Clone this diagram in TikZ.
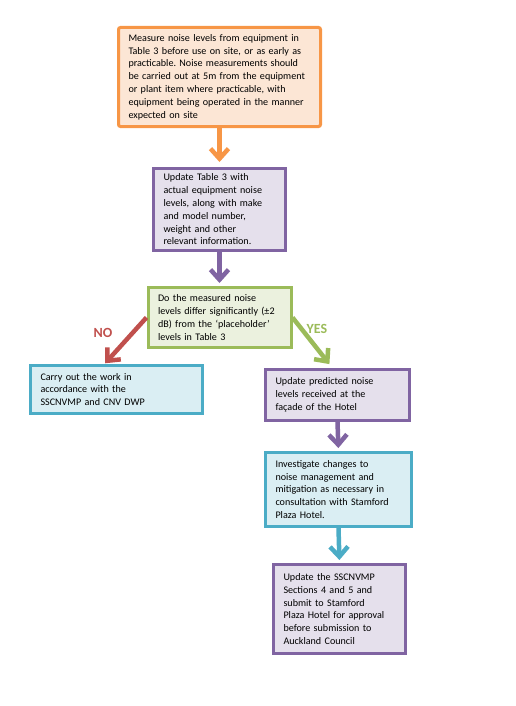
\documentclass[tikz,border=0pt]{standalone}
\usepackage{fontspec}
\setmainfont{Carlito}
\usetikzlibrary{arrows.meta,positioning}
\hyphenpenalty=10000
\frenchspacing

\definecolor{orangeline}{HTML}{F79646}
\definecolor{orangefill}{HTML}{FCE6D5}
\definecolor{purpleline}{HTML}{8064A2}
\definecolor{purplefill}{HTML}{E5E0EC}
\definecolor{greenline}{HTML}{9BBB59}
\definecolor{greenfill}{HTML}{EBF1DE}
\definecolor{cyanline}{HTML}{4BACC6}
\definecolor{cyanfill}{HTML}{DAEEF3}
\definecolor{noline}{HTML}{C0504D}

\begin{document}
\begin{tikzpicture}[x=1pt, y=1pt,
			step node/.style={rectangle, draw, line width=3pt, align=left, inner xsep=10pt, inner ysep=4pt,
				font=\fontsize{10.1}{12.8}\selectfont},
			flow/.style={line width=4.5pt, -{Straight Barb[length=10pt,width=18pt]}},
			answer/.style={font=\fontsize{14}{14}\selectfont\bfseries}]
			
			\useasboundingbox (0,0) rectangle (515,-706);
			
			\node[step node, draw=orangeline, fill=orangefill, rounded corners=2pt, text width=182pt, minimum height=99pt] (meas) at (219.5,-77)
			{Measure noise levels from equipment in\\ Table 3 before use on site, or as early as\\ practicable. Noise measurements should\\ be carried out at 5m from the equipment\\ or plant item where practicable, with\\ equipment being operated in the manner\\ expected on site};
			\node[step node, draw=purpleline, fill=purplefill, text width=112pt, minimum height=82pt] (table) [below=39pt of meas]
			{Update Table 3 with\\ actual equipment noise\\ levels, along with make\\ and model number,\\ weight and other\\ relevant information.};
			\node[step node, draw=greenline, fill=greenfill, text width=123pt, minimum height=60pt] (dec) [below=34pt of table]
			{Do the measured noise\\ levels differ significantly (±2\\ dB) from the ‘placeholder’\\ levels in Table 3};
			\node[step node, draw=cyanline, fill=cyanfill, text width=152pt, minimum height=48pt] (work) at (116.5,-389.5)
			{Carry out the work in\\ accordance with the\\ SSCNVMP and CNV DWP};
			\node[step node, draw=purpleline, fill=purplefill, text width=124pt, minimum height=51pt] (pred) at (337.5,-395)
			{Update predicted noise\\ levels received at the\\ façade of the Hotel};
			\node[step node, draw=cyanline, fill=cyanfill, text width=126pt, minimum height=74pt] (mitig) [below=29pt of pred, xshift=1pt]
			{Investigate changes to\\ noise management and\\ mitigation as necessary in\\ consultation with Stamford\\ Plaza Hotel.};
			\node[step node, draw=purpleline, fill=purplefill, text width=112pt, minimum height=89pt] (final) [below=35pt of mitig, xshift=1pt]
			{Update the SSCNVMP\\ Sections 4 and 5 and\\ submit to Stamford\\ Plaza Hotel for approval\\ before submission to\\ Auckland Council};
			
			% answers
			\node[answer, text=noline] (nolab) at (103,-333) {NO};
			\node[answer, text=greenline] (yeslab) at (317,-329) {YES};
			
			\path[flow]
			(meas.south) edge[orangeline, shorten >=5pt] (table.north)
			(table.south) edge[purpleline, shorten >=3pt] (dec.north)
			(dec.west) edge[noline, shorten >=1pt] ([xshift=-12pt]work.north)
			(dec.east) edge[greenline, shorten >=5pt] ([xshift=-5pt]pred.north)
			(pred.south) edge[purpleline, shorten >=3pt] (mitig.north)
			(mitig.south) edge[cyanline, shorten >=3pt] (final.north);
			
\end{tikzpicture}
\end{document}
